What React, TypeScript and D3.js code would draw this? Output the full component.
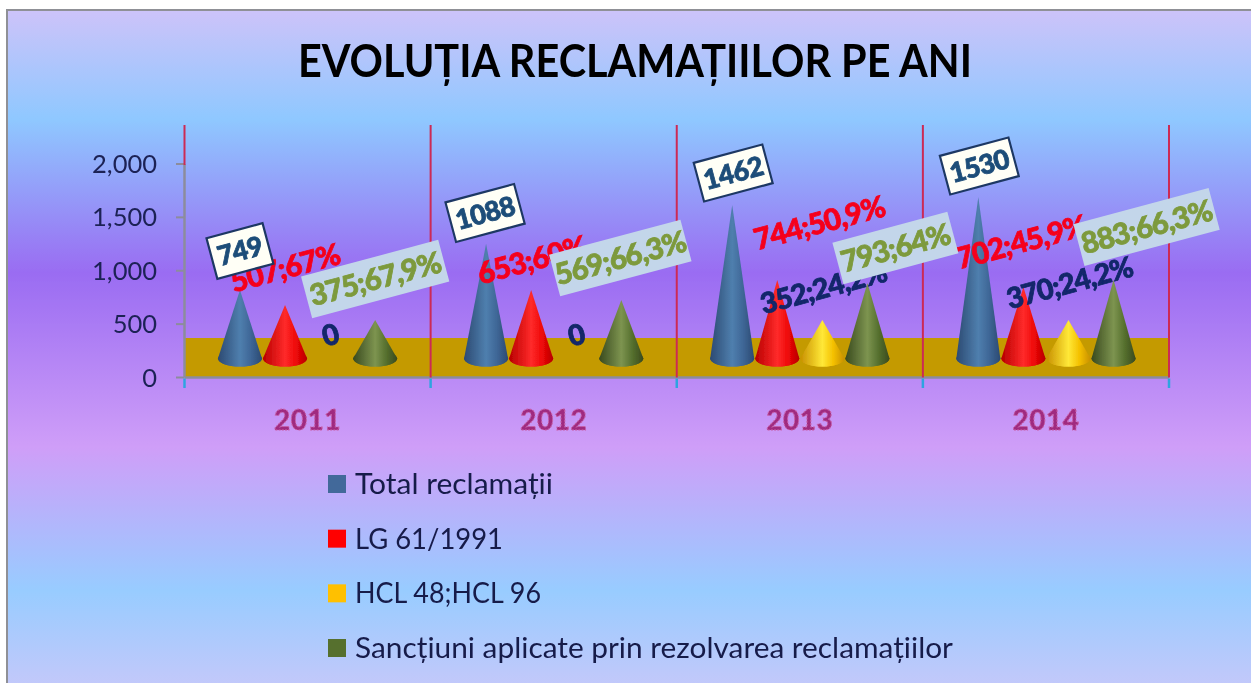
import React from "react";
import * as d3 from "d3";

const title = "EVOLUȚIA RECLAMAȚIILOR PE ANI";
const years = ["2011", "2012", "2013", "2014"];
const seriesNames = ["Total reclamații", "LG 61/1991", "HCL 48;HCL 96", "Sancțiuni aplicate prin rezolvarea reclamațiilor"];
const legendWidths = [198, 148, 186, 598];
const yTicks = [0, 500, 1000, 1500, 2000];
const floorValue = 370;

// cone heights
const totalHeights = [656, 1088, 1453, 1528];
const lgHeights = [515, 656, 750, 684];
const hclHeights = [0, 0, 375, 375];
const sanctionHeights = [375, 562, 722, 750];

// data labels as printed
const totalLabels = ["749", "1088", "1462", "1530"];
const lgLabels = ["507;67%", "653;60%", "744;50,9%", "702;45,9%"];
const hclLabels = ["0", "0", "352;24,2%", "370;24,2%"];
const sanctionLabels = ["375;67,9%", "569;66,3%", "793;64%", "883;66,3%"];

const colors = ["#43699a", "#ff0000", "#ffc000", "#56702e"];
const gradStops = [
  ["#2c4a72", "#4f7fae", "#3e6696", "#2c4a72"],
  ["#b80000", "#ff2a2a", "#ee0808", "#b80000"],
  ["#c89000", "#ffe838", "#f4c000", "#c89000"],
  ["#3a4a1e", "#7d9450", "#56702e", "#3a4a1e"],
];
const heights = [totalHeights, lgHeights, hclHeights, sanctionHeights];
const labelColors = ["#1f4e79", "#f5001e", "#12286a", "#7d9a3c"];

const W = 1251, H = 683;
const FONT = "Lato, 'Open Sans', sans-serif";

const x = d3.scaleBand<string>().domain(years).range([184.5, 1169]);
const sx = d3.scaleBand<number>().domain([0, 1, 2, 3]).range([0, x.bandwidth()]).paddingInner(0).paddingOuter(0.73);
const y = d3.scaleLinear().domain([0, 2000]).range([377.5, 164]);
const fmt = d3.format(",");

const depth = 19;
const halfW = 22;
const ry = 8;

const totalPos = [[0, 251, 58, 42], [-1, 213, 71, 41], [1, 173, 71, 40], [1, 166, 71, 40]];
const lgPos = [[0, 268], [1, 260], [42, 223], [-2, 242]];
const hclPos = [[0, 335], [0, 335], [1, 288], [1, 283]];
const sanctionPos = [[0, 279, 142, 43], [-1, 258, 136, 43], [28, 248, 119, 43], [33, 227, 140, 43]];

function conePath(cx: number, v: number) {
  const tip = y(v) - depth + 1.5;
  const base = y(0) - depth;
  return `M${cx},${tip}L${cx + halfW},${base}A${halfW},${ry} 0 0 1 ${cx - halfW},${base}Z`;
}

const col = (yi: number, si: number) => (x(years[yi]) as number) + (sx(si) as number) + sx.bandwidth() / 2;

const heavy = (fill: string, size: number, sp: number, sw = 0.8) => ({
  textAnchor: "middle" as const,
  dy: "0.35em",
  fontFamily: FONT,
  fontWeight: 900,
  fontSize: size,
  letterSpacing: sp,
  fill,
  stroke: fill,
  strokeWidth: sw,
});

export default function App() {
  return (
    <svg width={W} height={H} viewBox={`0 0 ${W} ${H}`} style={{ position: "absolute", left: 0, top: 0, display: "block" }}>
      <defs>
        <linearGradient id="bg" x1="0" y1="0" x2="0" y2="1">
          <stop offset="0" stopColor="#cdc3f9" />
          <stop offset="0.16" stopColor="#8fc8ff" />
          <stop offset="0.385" stopColor="#9a6cf2" />
          <stop offset="0.64" stopColor="#cf9ef8" />
          <stop offset="0.85" stopColor="#98ccff" />
          <stop offset="1" stopColor="#c6c8fa" />
        </linearGradient>
        {gradStops.map((s, i) => (
          <linearGradient key={i} id={`cone${i}`} x1="0" y1="0" x2="1" y2="0">
            <stop offset="0" stopColor={s[0]} />
            <stop offset="0.5" stopColor={s[1]} />
            <stop offset="0.75" stopColor={s[2]} />
            <stop offset="1" stopColor={s[3]} />
          </linearGradient>
        ))}
        <filter id="soft" filterUnits="userSpaceOnUse" x="0" y="0" width={W} height={H}>
          <feGaussianBlur stdDeviation="0.6" />
        </filter>
      </defs>
      <rect width={W} height={H} fill="#ffffff" />
      <g filter="url(#soft)">
        <rect x={7} y={10} width={W} height={H} fill="url(#bg)" stroke="#8f9096" strokeWidth={2} />
        <text x={635} y={77} textAnchor="middle" fontFamily={FONT} fontWeight={700} fontSize={46} fill="#000" textLength={674} lengthAdjust="spacingAndGlyphs">{title}</text>

        <rect x={x.range()[0]} y={y(floorValue)} width={x.range()[1] - x.range()[0]} height={y(0) - y(floorValue)} fill="#c49a00" />

        <line x1={184.5} x2={184.5} y1={y(0)} y2={y(2000)} stroke="#8c8c9c" strokeWidth={2.5} />
        {yTicks.map((t) => (
          <g key={t}>
            <line x1={176} x2={184} y1={y(t)} y2={y(t)} stroke="#8c8c9c" strokeWidth={2} />
            <text x={157} y={y(t) + 9} textAnchor="end" fontFamily={FONT} fontSize={25.5} fill="#1c2154">{fmt(t)}</text>
          </g>
        ))}
        <line x1={184.5} x2={1169} y1={y(0)} y2={y(0)} stroke="#8c8c9c" strokeWidth={2.5} />

        {[...years.map((c) => x(c) as number), x.range()[1]].map((px, i) => (
          <g key={i}>
            <line x1={px} x2={px} y1={125} y2={i === 0 ? 165 : y(0)} stroke="#cc2a55" strokeWidth={2} />
            <line x1={px} x2={px} y1={y(0) + 1} y2={388} stroke="#2fa4e0" strokeWidth={2.5} />
          </g>
        ))}

        {heights.map((vals, si) =>
          vals.map((v, yi) =>
            v > 0 ? (
              <g key={`${si}-${yi}`}>
                <ellipse cx={col(yi, si)} cy={y(0) - depth} rx={halfW} ry={ry} fill={`url(#cone${si})`} />
                <path d={conePath(col(yi, si), v)} fill={`url(#cone${si})`} />
              </g>
            ) : null
          )
        )}

        {years.map((c) => (
          <text key={c} x={(x(c) as number) + x.bandwidth() / 2} y={430} textAnchor="middle" fontFamily={FONT} fontWeight={900} fontSize={28} letterSpacing={0.5} fill="#a02c80" stroke="#c860a8" strokeWidth={1} strokeDasharray="2 1.2">{c}</text>
        ))}

        {lgLabels.map((t, i) => {
          const cx = col(i, 1) + lgPos[i][0], cy = lgPos[i][1];
          return <text key={t} transform={`translate(${cx},${cy}) rotate(-15)`} {...heavy(labelColors[1], 29.5, -0.9)}>{t}</text>;
        })}
        {hclLabels.map((t, i) => {
          const cx = col(i, 2) + hclPos[i][0], cy = hclPos[i][1];
          return <text key={i} transform={`translate(${cx},${cy}) rotate(-15)`} {...heavy(labelColors[2], 28.5, -0.9)}>{t}</text>;
        })}
        {totalLabels.map((t, i) => {
          const [dx, cy, bw, bh] = totalPos[i];
          const cx = col(i, 0) + dx;
          return (
            <g key={t} transform={`translate(${cx},${cy}) rotate(-15)`}>
              <rect x={-bw / 2} y={-bh / 2} width={bw} height={bh} fill="#fffff6" stroke="#1f3864" strokeWidth={2.2} />
              <text {...heavy(labelColors[0], 27, -0.6)}>{t}</text>
            </g>
          );
        })}
        {sanctionLabels.map((t, i) => {
          const [dx, cy, bw, bh] = sanctionPos[i];
          const cx = col(i, 3) + dx;
          return (
            <g key={t} transform={`translate(${cx},${cy}) rotate(-15)`}>
              <rect x={-bw / 2} y={-bh / 2} width={bw} height={bh} fill="#c3d6ea" />
              <text {...heavy(labelColors[3], 29.5, -0.9)}>{t}</text>
            </g>
          );
        })}

        {seriesNames.map((n, i) => {
          const ly = d3.scaleLinear().domain([0, 3]).range([484, 648])(i);
          return (
            <g key={n}>
              <rect x={328} y={ly - 9} width={18} height={18} fill={colors[i]} />
              <text x={355} y={ly + 10} fontFamily={FONT} fontSize={28.5} textLength={legendWidths[i]} lengthAdjust="spacingAndGlyphs" fill="#171a4a">{n}</text>
            </g>
          );
        })}
      </g>
    </svg>
  );
}
